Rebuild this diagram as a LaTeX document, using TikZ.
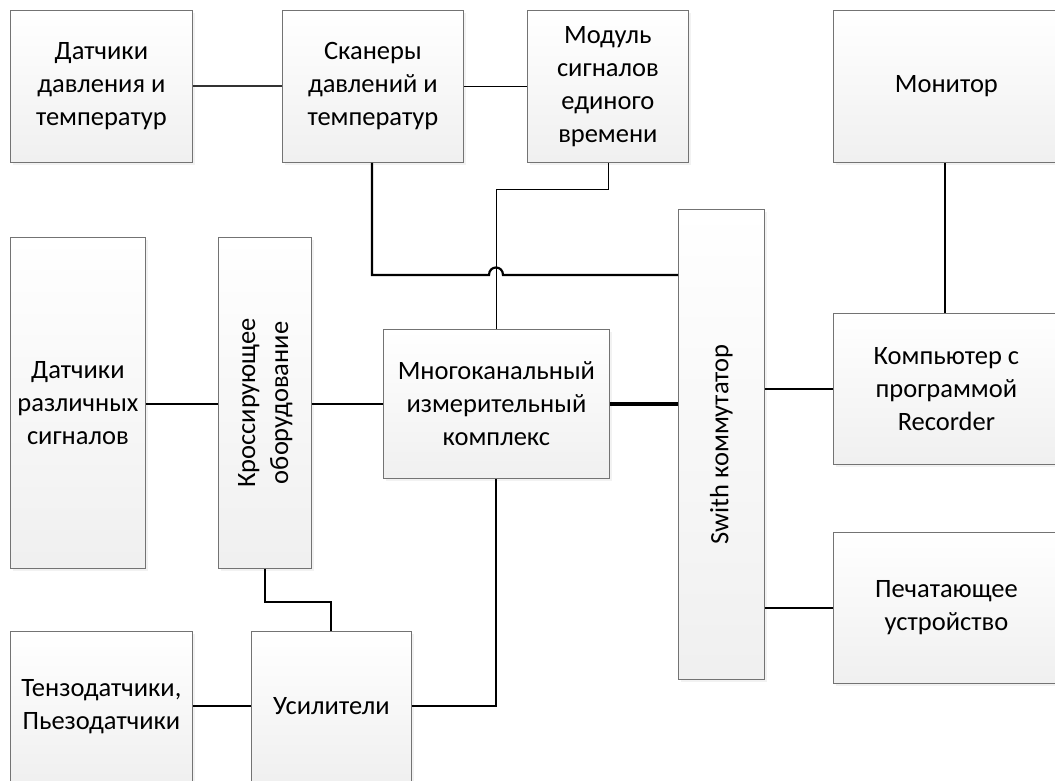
\documentclass[tikz,border=0pt]{standalone}
\usepackage{fontspec}
\setmainfont{Carlito}
\usetikzlibrary{shadows}
\begin{document}
\begin{tikzpicture}[x=1pt,y=-1pt,
  blk/.style={draw=black!55, line width=0.8pt, top color=white, bottom color=black!6,
    drop shadow={shadow xshift=2.5pt,shadow yshift=-2.5pt,fill=black!10},
    inner sep=0pt, anchor=north west, align=center,
    font=\fontsize{26.5}{33}\selectfont},
  thick line/.style={line width=2.2pt},
  thin line/.style={line width=0.9pt},
  heavy line/.style={line width=3.2pt}]
\useasboundingbox (0,0) rectangle (1055,780);
\begin{scope}
\clip (0,0) rectangle (1055,780);
\node[blk, minimum width=182pt, minimum height=152pt] (dp) at (10,10) {Датчики\\давления и\\температур};
\node[blk, minimum width=181pt, minimum height=152pt] (sc) at (282,10) {Сканеры\\давлений и\\температур};
\node[blk, minimum width=161pt, minimum height=152pt] (mod) at (527,10) {Модуль\\сигналов\\единого\\времени};
\node[blk, minimum width=226pt, minimum height=152pt] (mon) at (833,10) {Монитор};
\node[blk, minimum width=135pt, minimum height=331pt] (dr) at (10,237) {Датчики\\различных\\сигналов};
\node[blk, minimum width=93pt, minimum height=331pt] (kr) at (218,237) {\rotatebox{90}{\begin{tabular}{@{}c@{}}Кроссирующее\\оборудование\end{tabular}}};
\node[blk, minimum width=226pt, minimum height=149pt] (mk) at (383,329) {Многоканальный\\измерительный\\комплекс};
\node[blk, minimum width=86pt, minimum height=470pt] (sw) at (678,209) {\rotatebox{90}{Swith коммутатор}};
\node[blk, minimum width=226pt, minimum height=151pt] (comp) at (833,313) {Компьютер с\\программой\\Recorder};
\node[blk, minimum width=226pt, minimum height=151pt] (pr) at (833,532) {Печатающее\\устройство};
\node[blk, minimum width=182pt, minimum height=150pt] (tz) at (10,631) {Тензодатчики,\\Пьезодатчики};
\node[blk, minimum width=160pt, minimum height=150pt] (us) at (251,631) {Усилители};
\end{scope}

\coordinate (yA) at (0,86);
\coordinate (xS) at (372,0);
\coordinate (yB) at (0,275);
\coordinate (xM) at (608,0);
\coordinate (yC) at (0,189);
\coordinate (xV) at (496,0);
\coordinate (xMon) at (945,0);
\coordinate (yD) at (0,404);
\coordinate (yE) at (0,389);
\coordinate (yF) at (0,608);
\coordinate (xK) at (265,0);
\coordinate (yG) at (0,602);
\coordinate (xU) at (331,0);
\coordinate (yH) at (0,706);

\draw[thick line, black!80] (dp.east |- yA) -- (sc.west |- yA);
\draw[thin line] (sc.east |- yA) -- (mod.west |- yA);
\draw[thick line] (xS |- sc.south) -- (xS |- yB) -- (489,275)
  .. controls (489,265) and (503,265) .. (503,275) -- (sw.west |- yB);
\draw[thin line] (xM |- mod.south) -- (xM |- yC) -- (xV |- yC) -- (xV |- mk.north);
\draw[thick line] (xMon |- mon.south) -- (xMon |- comp.north);
\draw[thick line] (dr.east |- yD) -- (kr.west |- yD);
\draw[thick line] (kr.east |- yD) -- (mk.west |- yD);
\draw[heavy line] (mk.east |- yD) -- (sw.west |- yD);
\draw[thick line] (sw.east |- yE) -- (comp.west |- yE);
\draw[thick line] (sw.east |- yF) -- (pr.west |- yF);
\draw[thick line] (xK |- kr.south) -- (xK |- yG) -- (xU |- yG) -- (xU |- us.north);
\draw[thick line] (us.east |- yH) -- (xV |- yH) -- (xV |- mk.south);
\draw[thick line] (tz.east |- yH) -- (us.west |- yH);
\end{tikzpicture}
\end{document}
